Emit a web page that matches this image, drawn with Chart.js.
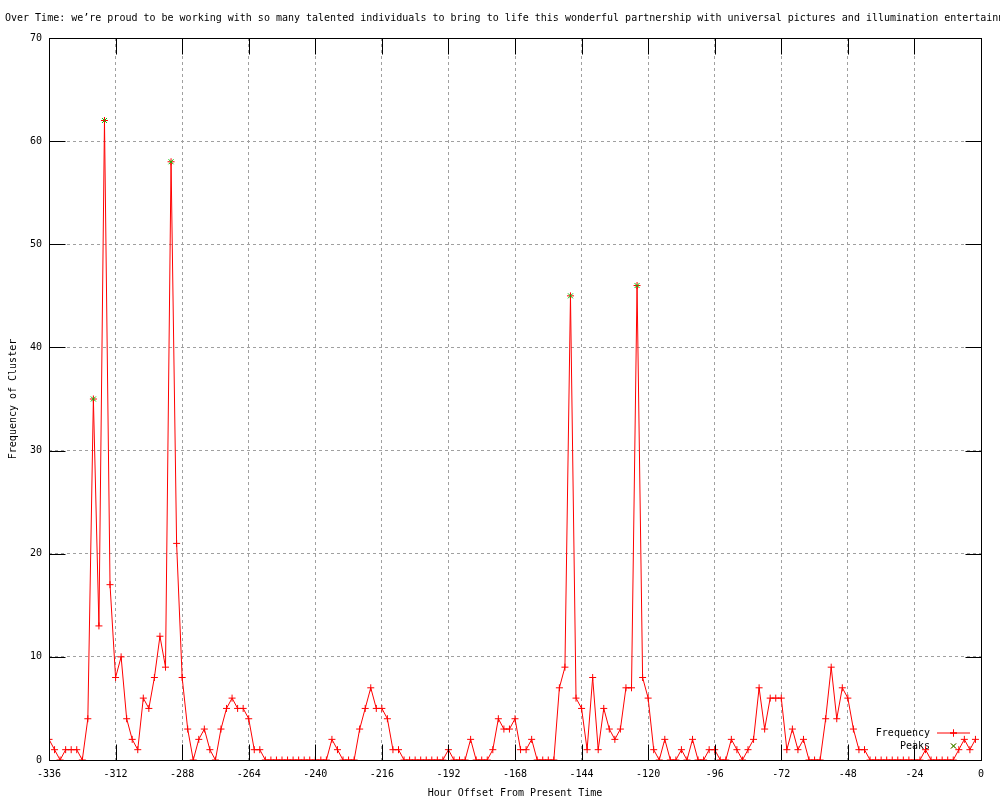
<!DOCTYPE html>
<html>
<head>
<meta charset="utf-8">
<script src="https://cdn.jsdelivr.net/npm/chart.js@4/dist/chart.umd.min.js"></script>
<style>
  html, body { margin: 0; padding: 0; background: #ffffff; }
  #wrap { width: 1000px; height: 800px; }
</style>
</head>
<body>
<div id="wrap"><canvas id="chart" width="1000" height="800"></canvas></div>
<script>
const TITLE = "Over Time: we\u2019re proud to be working with so many talented individuals to bring to life this wonderful partnership with universal pictures and illumination entertainm";
const X_LABEL = "Hour Offset From Present Time";
const Y_LABEL = "Frequency of Cluster";

// hour offsets of each sample (every 2 hours)
const HOURS = [
    -336, -334, -332, -330, -328, -326, -324, -322, -320, -318, -316, -314,
    -312, -310, -308, -306, -304, -302, -300, -298, -296, -294, -292, -290,
    -288, -286, -284, -282, -280, -278, -276, -274, -272, -270, -268, -266,
    -264, -262, -260, -258, -256, -254, -252, -250, -248, -246, -244, -242,
    -240, -238, -236, -234, -232, -230, -228, -226, -224, -222, -220, -218,
    -216, -214, -212, -210, -208, -206, -204, -202, -200, -198, -196, -194,
    -192, -190, -188, -186, -184, -182, -180, -178, -176, -174, -172, -170,
    -168, -166, -164, -162, -160, -158, -156, -154, -152, -150, -148, -146,
    -144, -142, -140, -138, -136, -134, -132, -130, -128, -126, -124, -122,
    -120, -118, -116, -114, -112, -110, -108, -106, -104, -102, -100, -98,
    -96, -94, -92, -90, -88, -86, -84, -82, -80, -78, -76, -74,
    -72, -70, -68, -66, -64, -62, -60, -58, -56, -54, -52, -50,
    -48, -46, -44, -42, -40, -38, -36, -34, -32, -30, -28, -26,
    -24, -22, -20, -18, -16, -14, -12, -10, -8, -6, -4, -2,
];

const FREQUENCY = [
    2, 1, 0, 1, 1, 1, 0, 4, 35, 13, 62, 17,
    8, 10, 4, 2, 1, 6, 5, 8, 12, 9, 58, 21,
    8, 3, 0, 2, 3, 1, 0, 3, 5, 6, 5, 5,
    4, 1, 1, 0, 0, 0, 0, 0, 0, 0, 0, 0,
    0, 0, 0, 2, 1, 0, 0, 0, 3, 5, 7, 5,
    5, 4, 1, 1, 0, 0, 0, 0, 0, 0, 0, 0,
    1, 0, 0, 0, 2, 0, 0, 0, 1, 4, 3, 3,
    4, 1, 1, 2, 0, 0, 0, 0, 7, 9, 45, 6,
    5, 1, 8, 1, 5, 3, 2, 3, 7, 7, 46, 8,
    6, 1, 0, 2, 0, 0, 1, 0, 2, 0, 0, 1,
    1, 0, 0, 2, 1, 0, 1, 2, 7, 3, 6, 6,
    6, 1, 3, 1, 2, 0, 0, 0, 4, 9, 4, 7,
    6, 3, 1, 1, 0, 0, 0, 0, 0, 0, 0, 0,
    0, 0, 1, 0, 0, 0, 0, 0, 1, 2, 1, 2,
];

const PEAK_HOURS = [-320, -316, -292, -148, -124];
const PEAK_VALUES = [35, 62, 58, 45, 46];

const X_TICKS = [-336, -312, -288, -264, -240, -216, -192, -168, -144, -120, -96, -72, -48, -24, 0];
const Y_TICKS = [0, 10, 20, 30, 40, 50, 60, 70];

const FONT_FAMILY = "'DejaVu Sans Mono', 'Liberation Mono', monospace";
const FONT = { family: FONT_FAMILY, size: 10, lineHeight: 1.2 };
const RED = "#ff0000";
const GREEN = "#00c000";
const GRID = "#a0a0a0";
const TICK_LEN = 16;

Chart.defaults.color = "#000000";
Chart.defaults.font.family = FONT_FAMILY;
Chart.defaults.font.size = 10;

// gnuplot-like title, left cut at the canvas edge
const titlePlugin = {
    id: "plainTitle",
    afterDraw(chart) {
        const ctx = chart.ctx;
        ctx.save();
        ctx.font = `10px ${FONT_FAMILY}`;
        ctx.fillStyle = "#000000";
        ctx.textAlign = "left";
        ctx.textBaseline = "middle";
        ctx.fillText(TITLE, 5, 18);
        ctx.restore();
    },
};

// key in the lower right corner, text left of the sample
const keyPlugin = {
    id: "insideKey",
    beforeDatasetsDraw(chart) {
        const { ctx, chartArea: a } = chart;
        const sets = chart.data.datasets;
        const textRight = a.right - 51;
        const sampleLeft = a.right - 44;
        const sampleRight = a.right - 11;
        const sampleMid = (sampleLeft + sampleRight) / 2;
        ctx.save();
        ctx.font = `10px ${FONT_FAMILY}`;
        ctx.textAlign = "right";
        ctx.textBaseline = "middle";
        sets.forEach((ds, i) => {
            const y = a.bottom - 27 + i * 13;
            ctx.fillStyle = "#000000";
            ctx.fillText(ds.label, textRight, y);
            if (ds.showLine !== false) {
                ctx.strokeStyle = ds.borderColor;
                ctx.lineWidth = 1;
                ctx.beginPath();
                ctx.moveTo(sampleLeft, y);
                ctx.lineTo(sampleRight, y);
                ctx.stroke();
            }
            Chart.helpers.drawPoint(ctx, {
                pointStyle: ds.pointStyle,
                radius: ds.pointRadius,
                borderWidth: 1,
            }, sampleMid, y);
            ctx.strokeStyle = ds.pointBorderColor;
            ctx.lineWidth = 1;
            ctx.stroke();
        });
        ctx.restore();
    },
};

// black frame with inward ticks on all four sides
const framePlugin = {
    id: "frame",
    afterDatasetsDraw(chart) {
        const { ctx, chartArea: a, scales } = chart;
        const left = Math.round(a.left) + 0.5;
        const right = Math.round(a.right) + 0.5;
        const top = Math.round(a.top) + 0.5;
        const bottom = Math.round(a.bottom) + 0.5;
        ctx.save();
        ctx.strokeStyle = "#000000";
        ctx.lineWidth = 1;
        ctx.beginPath();
        X_TICKS.forEach((v) => {
            const x = Math.round(scales.x.getPixelForValue(v)) + 0.5;
            ctx.moveTo(x, bottom);
            ctx.lineTo(x, bottom - TICK_LEN);
            ctx.moveTo(x, top);
            ctx.lineTo(x, top + TICK_LEN);
        });
        Y_TICKS.forEach((v) => {
            const y = Math.round(scales.y.getPixelForValue(v)) + 0.5;
            ctx.moveTo(left, y);
            ctx.lineTo(left + TICK_LEN, y);
            ctx.moveTo(right, y);
            ctx.lineTo(right - TICK_LEN, y);
        });
        ctx.stroke();
        ctx.strokeRect(left, top, right - left, bottom - top);
        ctx.restore();
    },
};

const frequencyPoints = HOURS.map((h, i) => ({ x: h, y: FREQUENCY[i] }));
const peakPoints = PEAK_HOURS.map((h, i) => ({ x: h, y: PEAK_VALUES[i] }));

new Chart(document.getElementById("chart"), {
    type: "line",
    data: {
        datasets: [
            {
                label: "Frequency",
                data: frequencyPoints,
                order: 1,
                borderColor: RED,
                borderWidth: 1,
                tension: 0,
                fill: false,
                pointStyle: "cross",
                pointRadius: 3.5,
                pointBorderColor: RED,
                pointBackgroundColor: RED,
                pointBorderWidth: 1,
                pointHoverRadius: 3.5,
            },
            {
                label: "Peaks",
                data: peakPoints,
                order: 0,
                showLine: false,
                borderColor: GREEN,
                pointStyle: "crossRot",
                pointRadius: 3.5,
                pointBorderColor: GREEN,
                pointBackgroundColor: GREEN,
                pointBorderWidth: 1,
                pointHoverRadius: 3.5,
            },
        ],
    },
    options: {
        responsive: false,
        animation: false,
        devicePixelRatio: 1,
        layout: { padding: { top: 38, right: 19, bottom: 0, left: 0 } },
        plugins: {
            legend: { display: false },
            title: { display: false },
            tooltip: { enabled: false },
        },
        scales: {
            x: {
                type: "linear",
                min: -336,
                max: 0,
                afterBuildTicks(scale) {
                    scale.ticks = X_TICKS.map((v) => ({ value: v }));
                },
                afterFit(scale) {
                    scale.height = 40;
                },
                ticks: {
                    font: FONT,
                    color: "#000000",
                    padding: 8,
                    maxRotation: 0,
                    autoSkip: false,
                    callback: (value) => String(value),
                },
                grid: { color: GRID, lineWidth: 1, drawTicks: false },
                border: { display: false, dash: [3, 3] },
                title: {
                    display: true,
                    text: X_LABEL,
                    font: FONT,
                    color: "#000000",
                    padding: { top: 0, bottom: 1 },
                },
            },
            y: {
                type: "linear",
                min: 0,
                max: 70,
                afterBuildTicks(scale) {
                    scale.ticks = Y_TICKS.map((v) => ({ value: v }));
                },
                afterFit(scale) {
                    scale.width = 49;
                },
                ticks: {
                    font: FONT,
                    color: "#000000",
                    padding: 7,
                    autoSkip: false,
                    callback: (value) => String(value),
                },
                grid: { color: GRID, lineWidth: 1, drawTicks: false },
                border: { display: false, dash: [3, 3] },
                title: {
                    display: true,
                    text: Y_LABEL,
                    font: FONT,
                    color: "#000000",
                    padding: { top: 7, bottom: 0 },
                },
            },
        },
    },
    plugins: [titlePlugin, keyPlugin, framePlugin],
});
</script>
</body>
</html>
